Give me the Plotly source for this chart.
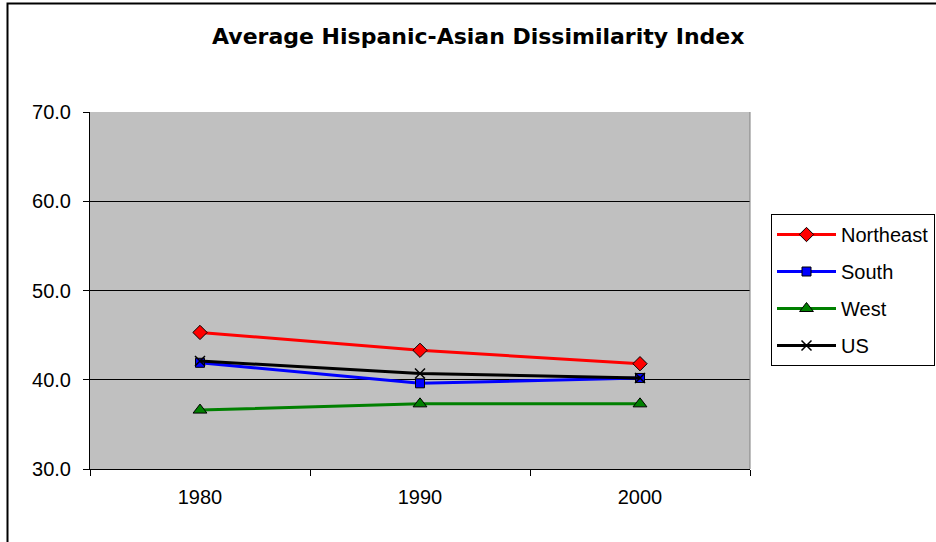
import plotly.graph_objects as go

# Census years on the category axis
years = ["1980", "1990", "2000"]

# Average Hispanic-Asian dissimilarity index by region
northeast = [45.3, 43.3, 41.8]
south = [41.9, 39.6, 40.2]
west = [36.6, 37.3, 37.3]
us = [42.1, 40.7, 40.2]

y_ticks = [30, 40, 50, 60, 70]

BASE_FONT = "Liberation Sans, Arial, sans-serif"

series = [
    ("Northeast", northeast, "#FF0000", "diamond", 11),
    ("South", south, "#0000FF", "square", 9),
    ("West", west, "#008000", "triangle-up", 12),
    ("US", us, "#000000", "x-thin", 10),
]

fig = go.Figure()
for name, vals, color, symbol, size in series:
    if symbol == "x-thin":
        marker = dict(symbol=symbol, size=size, color=color,
                      line=dict(color="#000000", width=1.5))
    else:
        marker = dict(symbol=symbol, size=size, color=color,
                      line=dict(color="#000000", width=1))
    fig.add_trace(go.Scatter(
        x=years, y=vals, name=name, mode="lines+markers",
        line=dict(color=color, width=3),
        marker=marker, legendgroup=name,
    ))

fig.update_layout(
    width=936, height=542, autosize=False,
    margin=dict(l=90, r=186, t=112, b=73, autoexpand=False),
    paper_bgcolor="#FFFFFF",
    plot_bgcolor="#C0C0C0",
    font=dict(family=BASE_FONT, size=20, color="#000000"),
    title=dict(
        text="<b>Average Hispanic-Asian Dissimilarity Index</b>",
        font=dict(family="DejaVu Sans, sans-serif", size=22, color="#000000"),
        x=0.511, xanchor="center", xref="container",
        y=1 - 36 / 542, yanchor="middle", yref="container",
    ),
    xaxis=dict(
        type="category", range=[-0.5, 2.5],
        tickson="boundaries", ticks="outside", ticklen=6,
        tickcolor="#000000", tickwidth=1,
        showline=True, linecolor="#000000", linewidth=1,
        showgrid=False, ticklabelstandoff=10,
        tickfont=dict(size=20),
    ),
    yaxis=dict(
        range=[30, 70], tickvals=y_ticks, tickformat=".1f",
        ticks="outside", ticklen=6, tickcolor="#000000", tickwidth=1,
        showline=True, linecolor="#000000", linewidth=1,
        showgrid=True, gridcolor="#000000", gridwidth=1,
        zeroline=False, ticklabelstandoff=8,
        tickfont=dict(size=20),
    ),
    legend=dict(
        x=(771 - 90) / 660, xanchor="left",
        y=(469 - 214) / 357, yanchor="top",
        bgcolor="#FFFFFF", bordercolor="#000000", borderwidth=1,
        font=dict(family=BASE_FONT, size=20),
        traceorder="grouped", tracegroupgap=8,
        itemwidth=59,
    ),
    showlegend=True,
    shapes=[
        # right edge of the plot area
        dict(type="line", xref="paper", yref="paper",
             x0=1, x1=1, y0=0, y1=1,
             line=dict(color="#808080", width=1)),
        # outer chart frame
        dict(type="rect", xref="paper", yref="paper",
             x0=(7.5 - 90) / 660, x1=1.5,
             y0=-0.5, y1=(469 - 3.5) / 357,
             line=dict(color="#000000", width=2),
             fillcolor="rgba(0,0,0,0)", layer="below"),
    ],
)

fig.write_html("out.html")
